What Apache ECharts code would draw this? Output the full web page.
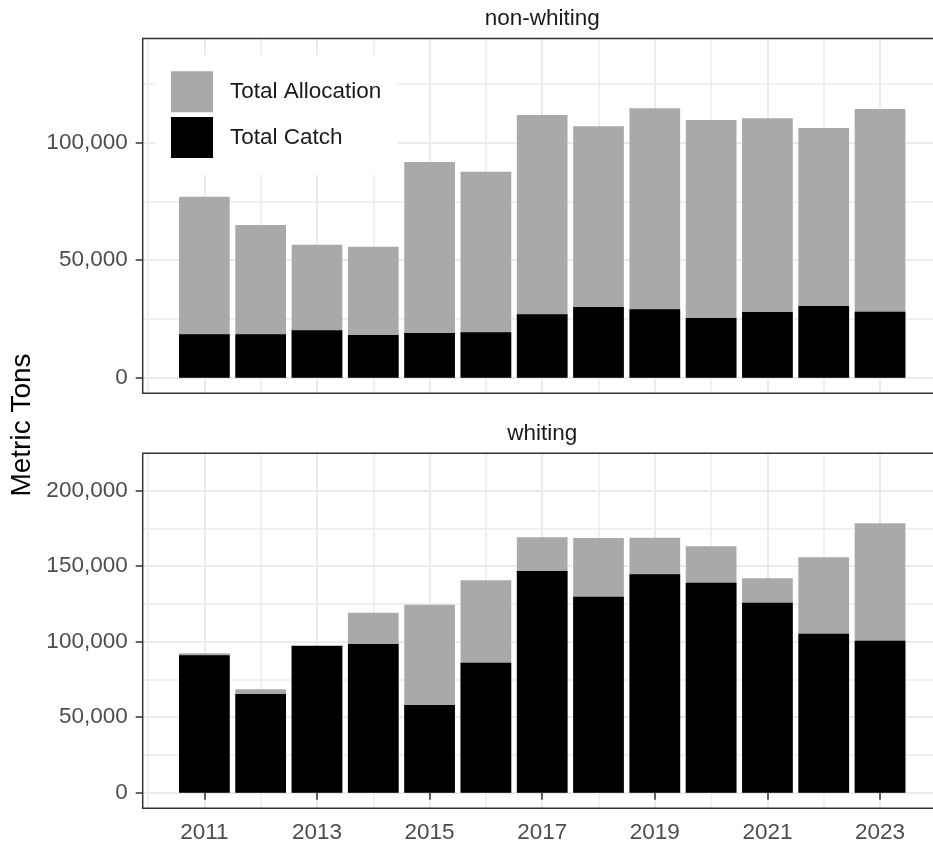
<!DOCTYPE html>
<html>
<head>
<meta charset="utf-8">
<script src="https://cdn.jsdelivr.net/npm/echarts@6/dist/echarts.min.js"></script>
<style>
  html, body { margin: 0; padding: 0; background: #fff; overflow: hidden; }
  #chart { width: 933px; height: 844px; }
</style>
</head>
<body>
<div id="chart"></div>
<script>
// ---- data ----
const years = [2011, 2012, 2013, 2014, 2015, 2016, 2017, 2018, 2019, 2020, 2021, 2022, 2023];
const nonWhitingAllocation = [77000, 65000, 56600, 55750, 91800, 87650, 111800, 107000, 114650, 109650, 110400, 106250, 114350];
const nonWhitingCatch = [18450, 18450, 20150, 18150, 19000, 19300, 27000, 30100, 29100, 25400, 27950, 30500, 28100];
const whitingAllocation = [92300, 68500, 97600, 119200, 124500, 140650, 169150, 168700, 168900, 163200, 142000, 155900, 178400];
const whitingCatch = [91000, 65350, 97150, 98500, 58100, 86100, 146800, 129800, 144650, 139050, 125850, 105300, 100650];

const xTickLabels = [2011, 2013, 2015, 2017, 2019, 2021, 2023];
const xMinorLines = [2010, 2012, 2014, 2016, 2018, 2020, 2022, 2024];
const yTicksTop = [0, 50000, 100000];
const yMinorTop = [25000, 75000, 125000];
const yTicksBottom = [0, 50000, 100000, 150000, 200000];
const yMinorBottom = [25000, 75000, 125000, 175000];
const panelTitles = ['non-whiting', 'whiting'];
const seriesNames = ['Total Allocation', 'Total Catch'];

// ---- styling / layout ----
const FONT = '"Liberation Sans", Arial, Helvetica, sans-serif';
const GRID_COL = '#EBEBEB';
const AXIS_COL = '#333333';
const TXT_COL = '#4D4D4D';
const ALLOC_COL = '#A9A9A9';
const CATCH_COL = '#000000';

const PANEL_LEFT = 142.7, PANEL_W = 799;
const PANELS = [{ top: 38.5, h: 354.8 }, { top: 453.3, h: 355 }];

const X_MIN = 2009.905, X_MAX = 2024.095;
const TOP_Y = [-6640, 144340];
const BOT_Y = [-10330, 224770];

const pair = (arr) => years.map((y, i) => [y, arr[i]]);
const fmt = (v) => Number(v).toLocaleString('en-US');

function xMajor(gridIndex, showLabels) {
  return {
    type: 'value', gridIndex, min: X_MIN, max: X_MAX,
    axisLine: { show: false },
    axisTick: { show: showLabels, customValues: xTickLabels, length: 7, lineStyle: { color: AXIS_COL, width: 1.5 } },
    axisLabel: { show: showLabels, customValues: xTickLabels, margin: 13, color: TXT_COL, fontSize: 22.5, fontFamily: FONT, formatter: (v) => String(v) },
    splitLine: { show: true, lineStyle: { color: GRID_COL, width: 2 } }
  };
}
function xMinor(gridIndex) {
  return {
    type: 'value', gridIndex, min: X_MIN, max: X_MAX,
    axisLine: { show: false },
    axisTick: { show: false, customValues: xMinorLines },
    axisLabel: { show: false },
    splitLine: { show: true, lineStyle: { color: GRID_COL, width: 1.5 } }
  };
}
function yMajor(gridIndex, ext, ticks) {
  return {
    type: 'value', gridIndex, min: ext[0], max: ext[1],
    axisLine: { show: false },
    axisTick: { show: true, customValues: ticks, length: 7, lineStyle: { color: AXIS_COL, width: 1.5 } },
    axisLabel: { show: true, customValues: ticks, margin: 15, color: TXT_COL, fontSize: 22.5, fontFamily: FONT, formatter: fmt },
    splitLine: { show: true, lineStyle: { color: GRID_COL, width: 2 } }
  };
}
function yMinor(gridIndex, ext, ticks) {
  return {
    type: 'value', gridIndex, min: ext[0], max: ext[1],
    axisLine: { show: false },
    axisTick: { show: false, customValues: ticks },
    axisLabel: { show: false },
    splitLine: { show: true, lineStyle: { color: GRID_COL, width: 1.5 } }
  };
}
function bar(name, data, xi, yi, color) {
  return {
    type: 'bar', name, data, xAxisIndex: xi, yAxisIndex: yi,
    barWidth: 50.7, barGap: '-100%',
    itemStyle: { color },
    emphasis: { disabled: true },
    animation: false
  };
}
function frame(p) {
  return {
    type: 'rect', z: 100, silent: true,
    shape: { x: PANEL_LEFT, y: p.top, width: PANEL_W, height: p.h },
    style: { fill: 'none', stroke: AXIS_COL, lineWidth: 1.5 }
  };
}

const chart = echarts.init(document.getElementById('chart'), null, { renderer: 'canvas' });
chart.setOption({
  backgroundColor: '#ffffff',
  animation: false,
  textStyle: { fontFamily: FONT },
  grid: PANELS.map(p => ({ left: PANEL_LEFT, top: p.top, width: PANEL_W, height: p.h, show: false, containLabel: false, outerBoundsMode: 'none' })),
  xAxis: [xMajor(0, false), xMinor(0), xMajor(1, true), xMinor(1)],
  yAxis: [yMajor(0, TOP_Y, yTicksTop), yMinor(0, TOP_Y, yMinorTop), yMajor(1, BOT_Y, yTicksBottom), yMinor(1, BOT_Y, yMinorBottom)],
  legend: {
    data: seriesNames,
    orient: 'vertical',
    left: 155, top: 55,
    padding: [16.3, 16, 17, 16],
    backgroundColor: '#ffffff',
    icon: 'rect',
    itemWidth: 42, itemHeight: 41, itemGap: 4.6,
    selectedMode: false,
    textStyle: { fontSize: 22.5, color: '#1A1A1A', fontFamily: FONT, padding: [6, 0, 0, 12] }
  },
  series: [
    bar(seriesNames[0], pair(nonWhitingAllocation), 0, 0, ALLOC_COL),
    bar(seriesNames[1], pair(nonWhitingCatch), 0, 0, CATCH_COL),
    bar(seriesNames[0], pair(whitingAllocation), 2, 2, ALLOC_COL),
    bar(seriesNames[1], pair(whitingCatch), 2, 2, CATCH_COL)
  ],
  graphic: [
    frame(PANELS[0]),
    frame(PANELS[1]),
    { type: 'text', x: 542.2, y: 18.5, style: { text: panelTitles[0], fontSize: 22.5, fontFamily: FONT, fill: '#1A1A1A', align: 'center', verticalAlign: 'middle' } },
    { type: 'text', x: 542.2, y: 433.3, style: { text: panelTitles[1], fontSize: 22.5, fontFamily: FONT, fill: '#1A1A1A', align: 'center', verticalAlign: 'middle' } },
    { type: 'text', x: 22, y: 425, rotation: Math.PI / 2, style: { text: 'Metric Tons', fontSize: 28, fontFamily: FONT, fill: '#000000', align: 'center', verticalAlign: 'middle' } }
  ]
});
</script>
</body>
</html>
